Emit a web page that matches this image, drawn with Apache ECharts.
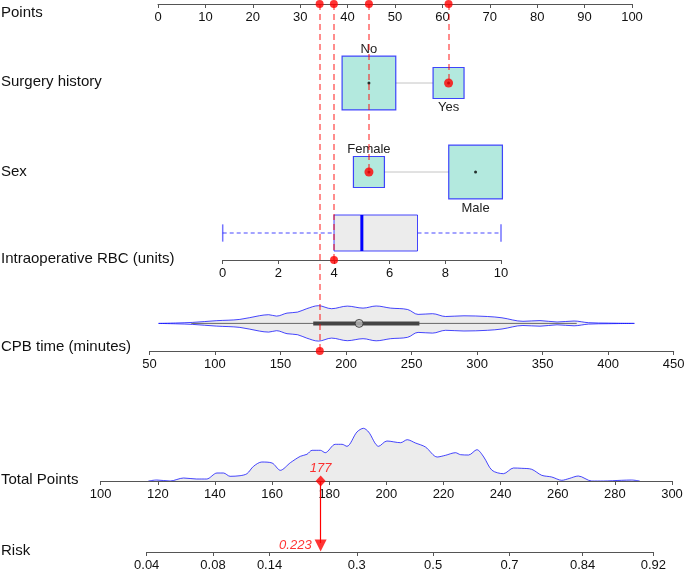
<!DOCTYPE html>
<html><head><meta charset="utf-8">
<script src="https://cdn.jsdelivr.net/npm/echarts@6/dist/echarts.min.js"></script>
<style>html,body{margin:0;padding:0;background:#fff}#c{width:685px;height:569px}</style>
</head><body><div id="c"></div>
<script>
// ---------------- data ----------------
const rowTitles = ['Points', 'Surgery history', 'Sex', 'Intraoperative RBC (units)', 'CPB time (minutes)', 'Total Points', 'Risk'];
const pointsRange = [0, 100];
const surgeryCats = ['No', 'Yes'];
const surgeryPoints = [44.5, 61.3];
const surgeryProp = [0.75, 0.25];
const sexCats = ['Female', 'Male'];
const sexPoints = [44.5, 67.0];
const sexProp = [0.25, 0.75];
const rbcRange = [0, 10];
const rbcBox = [0, 4, 5, 7, 10];           // min, q1, median, q3, max
const cpbRange = [50, 450];
const cpbDensX = [57, 70, 83, 101, 119, 134, 141, 147, 155, 163, 170, 179, 189, 201, 213, 223, 234, 247, 255, 266, 276, 290, 308, 319, 335, 348, 361, 374, 385, 400, 420];
const cpbDensY = [0, 0.4, 1.0, 2.7, 4.0, 7.7, 8.7, 7.3, 10.3, 11.3, 14.7, 17.7, 14.7, 17.3, 15.3, 17.4, 15.3, 13.9, 9.0, 9.7, 6.9, 7.6, 6.9, 5.6, 2.1, 2.8, 1.4, 2.4, 0.7, 0.3, 0];
const cpbBox = [82, 175, 210, 256, 376];   // whisker low, q1, median, q3, whisker high
const totalRange = [100, 300];
const totalDensX = [116.7, 119.6, 124.3, 129, 133.6, 137.1, 140.7, 143, 145.3, 148.8, 151.2, 153.5, 156.4, 160, 162.9, 166.4, 169.9, 172.2, 174, 176.9, 178.6, 182.1, 184.5, 186.2, 189.7, 192, 193.8, 197.3, 200.2, 205, 207.3, 210.2, 213.7, 217.8, 220.7, 224.2, 226, 228.8, 231.7, 234.1, 237, 241, 244.5, 247.4, 250.9, 254.4, 257.9, 261.4, 264, 267.2, 271.9, 276, 282.3, 285.8, 288.7];
const totalDensY = [0, 1.0, 0, 3.0, 2.0, 2.0, 8.0, 8.0, 4.7, 5.3, 7.3, 14.7, 19.0, 18.0, 10.7, 18.3, 24.7, 26.7, 30.7, 30.7, 28.3, 36.7, 36.7, 34.7, 49.0, 52.7, 49.0, 34.7, 40.0, 38.3, 41.3, 38.0, 34.0, 24.0, 25.7, 28.3, 26.3, 26.0, 31.3, 24.0, 10.7, 7.3, 13.0, 12.7, 11.7, 5.7, 4.0, 0.7, 2.5, 5.0, 0, 0, 0.7, 1.0, 0];
const riskTicks = [0.04, 0.08, 0.14, 0.3, 0.5, 0.7, 0.84, 0.92];
const riskTickLabels = ['0.04', '0.08', '0.14', '0.3', '0.5', '0.7', '0.84', '0.92'];
const patientSurgery = 'Yes';
const patientSex = 'Female';
const patientRbc = 4;
const patientCpb = 180;
const patientVarPoints = [61.3, 44.5, 37.1, 34.1];   // surgery, sex, RBC, CPB
const patientTotal = 177;
const patientRisk = 0.223;

// ---------------- style / layout ----------------
const FONT = 'Liberation Sans, Arial, sans-serif';
const BLUE = 'rgba(0,0,255,0.72)';
const TEAL = '#b3e9de';
const AX = '#555';
const logit = p => Math.log(p / (1 - p));
const riskLogits = riskTicks.map(logit);

const axisCommon = {
  type: 'value', position: 'bottom',
  axisLine: { show: true, onZero: false, lineStyle: { color: AX, width: 1 } },
  axisTick: { show: true, length: 4, lineStyle: { color: AX } },
  axisLabel: { show: true, fontSize: 13, color: '#111', fontFamily: FONT, margin: 7, hideOverlap: false },
  splitLine: { show: false }, z: 10
};
const hiddenY = (min, max, inverse) => ({ type: 'value', show: false, min, max, inverse: !!inverse, splitLine: { show: false } });
const hiddenX = (min, max) => ({ type: 'value', show: false, min, max, splitLine: { show: false } });

const grids = [
  { left: 158, width: 474, top: 0, height: 4 },          // 0 points
  { left: 158, width: 474, top: 43, height: 80 },        // 1 surgery (center 83)
  { left: 158, width: 474, top: 132, height: 80 },       // 2 sex (center 172)
  { left: 222.7, width: 278.3, top: 215, height: 45 },   // 3 RBC (axis 260)
  { left: 149.4, width: 524.3, top: 303.4, height: 47.6 },// 4 CPB (axis 351)
  { left: 100.7, width: 571.3, top: 426, height: 55 },   // 5 total (axis 481)
  { left: 146.7, width: 506.6, top: 481, height: 71 },   // 6 risk (axis 552)
  { left: 158, width: 474, top: 0, height: 569 }         // 7 overlay
].map(g => Object.assign({ containLabel: false, outerBoundsMode: 'none' }, g));

const xAxes = [
  Object.assign({}, axisCommon, { gridIndex: 0, min: pointsRange[0], max: pointsRange[1], interval: 10 }),
  Object.assign(hiddenX(pointsRange[0], pointsRange[1]), { gridIndex: 1 }),
  Object.assign(hiddenX(pointsRange[0], pointsRange[1]), { gridIndex: 2 }),
  Object.assign({}, axisCommon, { gridIndex: 3, min: rbcRange[0], max: rbcRange[1], interval: 2 }),
  Object.assign({}, axisCommon, { gridIndex: 4, min: cpbRange[0], max: cpbRange[1], interval: 50 }),
  Object.assign({}, axisCommon, { gridIndex: 5, min: totalRange[0], max: totalRange[1], interval: 20 }),
  Object.assign({}, axisCommon, {
    gridIndex: 6, min: riskLogits[0], max: riskLogits[riskLogits.length - 1],
    axisTick: Object.assign({}, axisCommon.axisTick, { customValues: riskLogits }),
    axisLabel: Object.assign({}, axisCommon.axisLabel, {
      customValues: riskLogits,
      formatter: v => { const i = riskLogits.findIndex(l => Math.abs(l - v) < 1e-6); return i >= 0 ? riskTickLabels[i] : ''; }
    })
  }),
  Object.assign(hiddenX(pointsRange[0], pointsRange[1]), { gridIndex: 7 })
];
const yAxes = [
  Object.assign(hiddenY(0, 1), { gridIndex: 0 }),
  Object.assign(hiddenY(-40, 40), { gridIndex: 1 }),
  Object.assign(hiddenY(-40, 40), { gridIndex: 2 }),
  Object.assign(hiddenY(0, 45), { gridIndex: 3 }),
  Object.assign(hiddenY(-27.6, 20), { gridIndex: 4 }),
  Object.assign(hiddenY(0, 55), { gridIndex: 5 }),
  Object.assign(hiddenY(0, 71, true), { gridIndex: 6 }),
  Object.assign(hiddenY(0, 569, true), { gridIndex: 7 })
];

const BOX_K = 62;
function catSeries(gi, cats, pts, props, chosen) {
  const out = [];
  out.push({ type: 'line', xAxisIndex: gi, yAxisIndex: gi, data: [[pts[0], 0], [pts[pts.length - 1], 0]],
    symbol: 'none', lineStyle: { color: '#c4c4c4', width: 1 }, z: 1, silent: true, animation: false });
  out.push({ type: 'scatter', xAxisIndex: gi, yAxisIndex: gi, symbol: 'rect', z: 2, silent: true,
    itemStyle: { color: TEAL, borderColor: BLUE, borderWidth: 1.2, opacity: 1 },
    data: cats.map((c, i) => ({ value: [pts[i], 0], symbolSize: BOX_K * Math.sqrt(props[i]),
      label: { show: true, formatter: c, position: i % 2 === 0 ? 'top' : 'bottom', distance: i % 2 === 0 ? 0 : 2, fontSize: 13, color: '#222', fontFamily: FONT } })) });
  out.push({ type: 'scatter', xAxisIndex: gi, yAxisIndex: gi, symbol: 'circle', symbolSize: 3, z: 3, silent: true,
    itemStyle: { color: '#000' }, data: cats.map((c, i) => [pts[i], 0]) });
  const ci = cats.indexOf(chosen);
  out.push({ type: 'scatter', xAxisIndex: gi, yAxisIndex: gi, symbol: 'circle', symbolSize: 9, z: 20, silent: true,
    itemStyle: { color: 'red' }, data: [[pts[ci], 0]] });
  return out;
}

const rowAxisY = { surgery: 83, sex: 172, rbc: 260, cpb: 351 };
const topAxisY = 4;

const series = [].concat(
  [{ type: 'scatter', xAxisIndex: 0, yAxisIndex: 0, symbolSize: 8, z: 20, itemStyle: { color: 'red' }, clip: false,
     data: patientVarPoints.map(p => [p, 0]) }],
  catSeries(1, surgeryCats, surgeryPoints, surgeryProp, patientSurgery),
  catSeries(2, sexCats, sexPoints, sexProp, patientSex),
  [{ type: 'custom', xAxisIndex: 3, yAxisIndex: 3, data: [rbcBox], clip: false, z: 2,
     encode: { x: [0, 1, 2, 3, 4] },
     renderItem: (params, api) => {
       const v = [0, 1, 2, 3, 4].map(i => api.value(i));
       const X = val => api.coord([val, 27])[0];
       const top = api.coord([0, 45])[1], bot = api.coord([0, 9])[1], mid = (top + bot) / 2;
       const capH = (bot - top) * 0.24;
       const ln = (x1, y1, x2, y2, style) => ({ type: 'line', shape: { x1, y1, x2, y2 }, style });
       return { type: 'group', children: [
         ln(X(v[0]), mid, X(v[1]), mid, { stroke: BLUE, lineWidth: 1, lineDash: [4, 3] }),
         ln(X(v[3]), mid, X(v[4]), mid, { stroke: BLUE, lineWidth: 1, lineDash: [4, 3] }),
         ln(X(v[0]), mid - capH, X(v[0]), mid + capH, { stroke: 'rgba(0,0,255,0.55)', lineWidth: 1.5 }),
         ln(X(v[4]), mid - capH, X(v[4]), mid + capH, { stroke: 'rgba(0,0,255,0.55)', lineWidth: 1.5 }),
         { type: 'rect', shape: { x: X(v[1]), y: top, width: X(v[3]) - X(v[1]), height: bot - top }, style: { fill: '#ececec', stroke: BLUE, lineWidth: 1 } },
         ln(X(v[2]), top, X(v[2]), bot, { stroke: '#0000ff', lineWidth: 3 })
       ] };
     } },
   { type: 'scatter', xAxisIndex: 3, yAxisIndex: 3, symbolSize: 8, z: 20, clip: false, itemStyle: { color: 'red' }, data: [[patientRbc, 0]] }],
  [{ type: 'line', xAxisIndex: 4, yAxisIndex: 4, smooth: 0.35, symbol: 'none', z: 2,
     data: cpbDensX.map((x, i) => [x, cpbDensY[i]]), lineStyle: { color: BLUE, width: 1 },
     areaStyle: { color: '#ececec', opacity: 1, origin: 0 } },
   { type: 'line', xAxisIndex: 4, yAxisIndex: 4, smooth: 0.35, symbol: 'none', z: 2,
     data: cpbDensX.map((x, i) => [x, -cpbDensY[i]]), lineStyle: { color: BLUE, width: 1 },
     areaStyle: { color: '#ececec', opacity: 1, origin: 0 } },
   { type: 'line', xAxisIndex: 4, yAxisIndex: 4, symbol: 'none', z: 3, data: [[cpbBox[0], 0], [cpbBox[4], 0]], lineStyle: { color: '#666', width: 1 } },
   { type: 'line', xAxisIndex: 4, yAxisIndex: 4, symbol: 'none', z: 3, data: [[cpbBox[1], 0], [cpbBox[3], 0]], lineStyle: { color: '#444', width: 4, cap: 'butt' } },
   { type: 'scatter', xAxisIndex: 4, yAxisIndex: 4, symbolSize: 8, z: 4, data: [[cpbBox[2], 0]], itemStyle: { color: '#bbb', borderColor: '#333', borderWidth: 1 } },
   { type: 'scatter', xAxisIndex: 4, yAxisIndex: 4, symbolSize: 8, z: 20, clip: false, itemStyle: { color: 'red' }, data: [[patientCpb, -27.6]] }],
  [{ type: 'line', xAxisIndex: 5, yAxisIndex: 5, smooth: 0.3, symbol: 'none', z: 2,
     data: totalDensX.map((x, i) => [x, totalDensY[i]]), lineStyle: { color: BLUE, width: 1 },
     areaStyle: { color: '#ececec', opacity: 1, origin: 0 } },
   { type: 'scatter', xAxisIndex: 5, yAxisIndex: 5, symbol: 'diamond', symbolSize: [10, 11], z: 20, clip: false,
     itemStyle: { color: 'red' }, data: [[patientTotal, 0]],
     label: { show: true, position: 'top', distance: 1, formatter: String(patientTotal), color: 'red', fontStyle: 'italic', fontSize: 13, fontFamily: FONT } }],
  [{ type: 'lines', coordinateSystem: 'cartesian2d', xAxisIndex: 6, yAxisIndex: 6, z: 15, silent: true,
     lineStyle: { color: 'red', width: 1.2, opacity: 1 },
     data: [{ coords: [[logit(patientRisk), 0], [logit(patientRisk), 62]] }] },
   { type: 'scatter', xAxisIndex: 6, yAxisIndex: 6, symbol: 'triangle', symbolRotate: 180, symbolSize: [12, 12], z: 20, clip: false,
     itemStyle: { color: 'red' }, data: [[logit(patientRisk), 64.5]],
     label: { show: true, position: 'left', distance: 3, formatter: String(patientRisk), color: 'red', fontStyle: 'italic', fontSize: 13, fontFamily: FONT } }],
  [{ type: 'lines', coordinateSystem: 'cartesian2d', xAxisIndex: 7, yAxisIndex: 7, z: 15, silent: true,
     lineStyle: { color: 'rgba(255,0,0,0.6)', width: 1.5, type: [6, 4], opacity: 1 },
     data: [
       { coords: [[patientVarPoints[0], topAxisY], [patientVarPoints[0], rowAxisY.surgery]] },
       { coords: [[patientVarPoints[1], topAxisY], [patientVarPoints[1], rowAxisY.sex]] },
       { coords: [[patientVarPoints[2], topAxisY], [patientVarPoints[2], rowAxisY.rbc]] },
       { coords: [[patientVarPoints[3], topAxisY], [patientVarPoints[3], rowAxisY.cpb]] }
     ] }]
);

const titleY = [13, 82, 172, 259, 347, 480, 551];
const graphic = rowTitles.map((t, i) => ({
  type: 'text', left: 1, top: titleY[i] - 8, z: 30,
  style: { text: t, font: '15px ' + FONT, fill: '#111' }
}));

const chart = echarts.init(document.getElementById('c'), null, { renderer: 'canvas' });
chart.setOption({
  animation: false,
  backgroundColor: '#fff',
  grid: grids, xAxis: xAxes, yAxis: yAxes, series, graphic
});
</script></body></html>
